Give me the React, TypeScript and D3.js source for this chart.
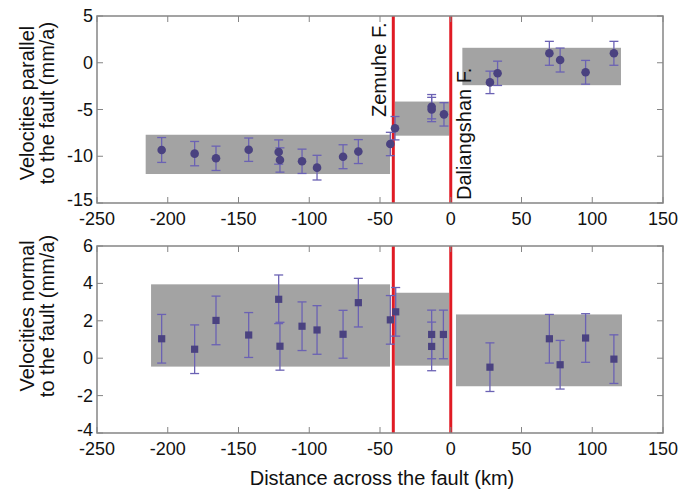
import React from "react";
import * as d3 from "d3";

// ---- data ----
const xTicks = [-250, -200, -150, -100, -50, 0, 50, 100, 150];
const parTicks = [5, 0, -5, -10, -15];
const normTicks = [6, 4, 2, 0, -2, -4];

const parDist = [-204.3, -181, -165.9, -142.8, -121.6, -120.7, -105.1, -94.5, -76.1, -65.3, -42.7, -39.4, -13.5, -13.5, -4.8, 27.7, 33.1, 69.7, 77.3, 95.3, 115.3];
const parVel = [-9.33, -9.72, -10.22, -9.3, -9.55, -10.4, -10.54, -11.22, -10.05, -9.5, -8.69, -7.0, -4.7, -5.0, -5.52, -2.1, -1.13, 1.01, 0.29, -1.02, 1.01];
const parErr = [1.33, 1.3, 1.3, 1.25, 1.3, 1.3, 1.3, 1.32, 1.28, 1.28, 1.25, 1.25, 1.3, 1.3, 1.25, 1.2, 1.3, 1.28, 1.28, 1.27, 1.28];

const normDist = [-204.3, -181, -165.9, -142.8, -121.6, -120.7, -105.1, -94.5, -76.1, -65.3, -42.7, -38.9, -13.5, -13.5, -5.2, 27.7, 69.7, 77.3, 95.3, 115.3];
const normVel = [1.04, 0.48, 2.02, 1.24, 3.15, 0.64, 1.71, 1.51, 1.28, 2.97, 2.05, 2.48, 1.27, 0.63, 1.27, -0.48, 1.04, -0.35, 1.08, -0.05];
const normErr = [1.3, 1.3, 1.3, 1.2, 1.3, 1.28, 1.3, 1.3, 1.28, 1.3, 1.3, 1.3, 1.3, 1.3, 1.3, 1.3, 1.3, 1.3, 1.3, 1.3];

// block models: [startKm, endKm, low, high]
const parBlocks = [
  [-215.6, -42.9, -11.9, -7.7],
  [-39.4, -1.0, -7.8, -4.15],
  [8.2, 120.3, -2.4, 1.6],
];
const normBlocks = [
  [-211.8, -42.9, -0.45, 3.95],
  [-39.4, -1.2, -0.4, 3.5],
  [3.7, 121.0, -1.5, 2.34],
];

const faultNames = ["Zemuhe F.", "Daliangshan F."];
const faultPos = [-40.6, 0];

// ---- layout ----
const W = 693;
const H = 495;
const left = 97;
const right = 663;
const topPanel = { y0: 16, y1: 203, domain: [-15, 5] };
const botPanel = { y0: 246, y1: 433, domain: [-4, 6] };

const x = d3.scaleLinear().domain([-250, 150]).range([left, right]);
const yTop = d3.scaleLinear().domain(topPanel.domain).range([topPanel.y1, topPanel.y0]);
const yBot = d3.scaleLinear().domain(botPanel.domain).range([botPanel.y1, botPanel.y0]);

const FONT = "Liberation Sans, Arial, sans-serif";
const AXIS = "#858585";
const BOX = "#a3a3a3";
const RED = "#e01b24";
const MARK = "#4a4280";
const ERR = "#6b62b4";

function Panel({ y, ticks, blocks, dist, vel, err, shape, labelLines, labelCy, showFaultNames }) {
  const [y0, y1] = [y.range()[1], y.range()[0]];
  const tl = 6;
  return (
    <g>
      {blocks.map((b, i) => (
        <rect key={"b" + i} x={x(b[0])} y={y(b[3])} width={x(b[1]) - x(b[0])} height={y(b[2]) - y(b[3])} fill={BOX} />
      ))}
      {faultPos.map((f, i) => (
        <line key={"f" + i} x1={x(f)} x2={x(f)} y1={y0} y2={y1} stroke={RED} strokeWidth={3} />
      ))}
      {showFaultNames &&
        faultNames.map((n, i) => {
          const bx = i === 0 ? x(faultPos[i]) - 7 : x(faultPos[i]) + 20;
          const by = i === 0 ? 117 : 200;
          return (
            <text key={"n" + i} transform={`translate(${bx},${by}) rotate(-90)`} fontFamily={FONT} fontSize={20} fill="#111">
              {n}
            </text>
          );
        })}
      {dist.map((d, i) => (
        <g key={"e" + i} stroke={ERR} strokeWidth={1.3}>
          <line x1={x(d)} x2={x(d)} y1={y(vel[i] - err[i])} y2={y(vel[i] + err[i])} />
          <line x1={x(d) - 4.5} x2={x(d) + 4.5} y1={y(vel[i] - err[i])} y2={y(vel[i] - err[i])} />
          <line x1={x(d) - 4.5} x2={x(d) + 4.5} y1={y(vel[i] + err[i])} y2={y(vel[i] + err[i])} />
        </g>
      ))}
      {dist.map((d, i) =>
        shape === "circle" ? (
          <circle key={"m" + i} cx={x(d)} cy={y(vel[i])} r={4.3} fill={MARK} />
        ) : (
          <rect key={"m" + i} x={x(d) - 3.6} y={y(vel[i]) - 3.6} width={7.2} height={7.2} fill={MARK} />
        )
      )}
      {/* frame */}
      <rect x={left} y={y0} width={right - left} height={y1 - y0} fill="none" stroke={AXIS} strokeWidth={1.5} />
      {xTicks.map((t) => (
        <g key={"xt" + t} stroke={AXIS} strokeWidth={1}>
          <line x1={x(t)} x2={x(t)} y1={y1} y2={y1 - tl} />
          <line x1={x(t)} x2={x(t)} y1={y0} y2={y0 + tl} />
        </g>
      ))}
      {ticks.map((t) => (
        <g key={"yt" + t} stroke={AXIS} strokeWidth={1}>
          <line x1={left} x2={left + tl} y1={y(t)} y2={y(t)} />
          <line x1={right} x2={right - tl} y1={y(t)} y2={y(t)} />
        </g>
      ))}
      {xTicks.map((t) => (
        <text key={"xl" + t} x={x(t)} y={y1 + 22} textAnchor="middle" fontFamily={FONT} fontSize={18} fill="#111">
          {t}
        </text>
      ))}
      {ticks.map((t, i) => (
        <text key={"yl" + t} x={93} y={y(t) + (i === ticks.length - 1 ? 3 : 6)} textAnchor="end" fontFamily={FONT} fontSize={18} fill="#111">
          {t}
        </text>
      ))}
      {labelLines.map((l, i) => (
        <text key={"ll" + i} transform={`translate(${34 + i * 20},${labelCy}) rotate(-90)`} textAnchor="middle" fontFamily={FONT} fontSize={20} fill="#111">
          {l}
        </text>
      ))}
    </g>
  );
}

export default function App() {
  return (
    <div style={{ position: "absolute", left: 0, top: 0, width: W, height: H, background: "#fff" }}>
      <svg width={W} height={H} viewBox={`0 0 ${W} ${H}`}>
        <rect width={W} height={H} fill="#fff" />
        <Panel
          y={yTop}
          ticks={parTicks}
          blocks={parBlocks}
          dist={parDist}
          vel={parVel}
          err={parErr}
          shape="circle"
          labelLines={["Velocities parallel", "to the fault (mm/a)"]}
          labelCy={103}
          showFaultNames={true}
        />
        <Panel
          y={yBot}
          ticks={normTicks}
          blocks={normBlocks}
          dist={normDist}
          vel={normVel}
          err={normErr}
          shape="square"
          labelLines={["Velocities normal", "to the fault (mm/a)"]}
          labelCy={316}
          showFaultNames={false}
        />
        <text x={382} y={485} textAnchor="middle" fontFamily={FONT} fontSize={20} fill="#111">
          Distance across the fault (km)
        </text>
      </svg>
    </div>
  );
}
